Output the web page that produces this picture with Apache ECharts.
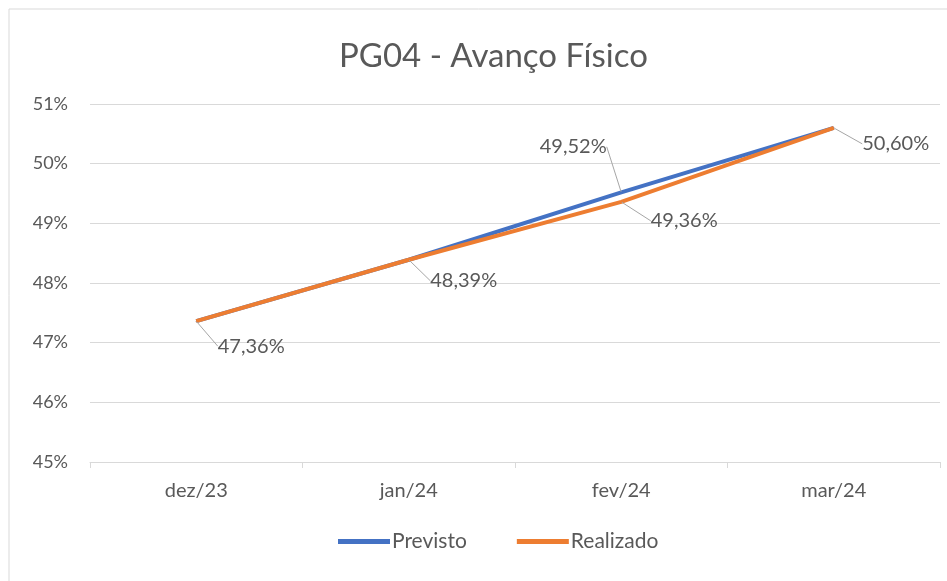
<!DOCTYPE html>
<html>
<head>
<meta charset="utf-8">
<script src="https://cdn.jsdelivr.net/npm/echarts@6/dist/echarts.min.js"></script>
<style>
  html, body { margin: 0; padding: 0; background: #fff; }
  #chart { width: 947px; height: 581px; }
</style>
</head>
<body>
<div id="chart"></div>
<script>
// dados do gráfico
var categorias = ['dez/23', 'jan/24', 'fev/24', 'mar/24']
var previsto = [47.36, 48.39, 49.52, 50.60]
var realizado = [47.36, 48.39, 49.36, 50.60]

// deslocamento dos rótulos (por índice)
var offsetRealizado = [[17, 25], [17, 21], [25, 19], [24, 16]]

function fmt(v) {
    return v.toFixed(2).replace('.', ',') + '%'
}

var fonte = 'Lato, "Open Sans", sans-serif'
var cinza = '#595959'

var dom = document.getElementById('chart')
var myChart = echarts.init(dom)

// só o ponto de fev/24 do previsto tem rótulo
var dadosPrevisto = previsto.map(function (v, i) {
    return { value: v, label: { show: i == 2 }, labelLine: { show: i == 2 } }
})

var option = {
    backgroundColor: '#fff',
    animation: false,
    title: {
        text: 'PG04 - Avanço Físico',
        left: 334,
        top: 35,
        textStyle: { fontFamily: fonte, fontSize: 33, fontWeight: 'normal', color: cinza }
    },
    graphic: [{
        type: 'rect',
        shape: { x: 9, y: 9, width: 960, height: 600 },
        style: { fill: null, stroke: '#d9d9d9', lineWidth: 1 }
    }],
    legend: {
        bottom: 24,
        left: 333,
        itemWidth: 52,
        itemHeight: 5,
        itemGap: 50,
        icon: 'rect',
        textStyle: { fontFamily: fonte, fontSize: 21, color: cinza, padding: [0, 0, 0, -3] },
        data: ['Previsto', 'Realizado']
    },
    grid: { left: 90, right: 7, top: 104, bottom: 119 },
    xAxis: {
        type: 'category',
        data: categorias,
        boundaryGap: true,
        axisLine: { lineStyle: { color: '#d9d9d9', width: 1 } },
        axisTick: { show: true, length: 6, lineStyle: { color: '#d9d9d9' } },
        axisLabel: { fontFamily: fonte, fontSize: 20, color: cinza, margin: 19 }
    },
    yAxis: {
        type: 'value',
        min: 45,
        max: 51,
        interval: 1,
        axisLine: { show: false },
        axisTick: { show: false },
        splitLine: { lineStyle: { color: '#d9d9d9', width: 1 } },
        axisLabel: {
            fontFamily: fonte, fontSize: 18, color: cinza, margin: 22,
            formatter: function (v) { return v + '%' }
        }
    },
    series: [
        {
            name: 'Previsto',
            type: 'line',
            data: dadosPrevisto,
            symbol: 'circle',
            symbolSize: 1,
            color: '#4472C4',
            itemStyle: { color: '#4472C4' },
            lineStyle: { width: 4, color: '#4472C4' },
            label: {
                position: 'top',
                fontFamily: fonte, fontSize: 20, color: cinza,
                formatter: function (p) { return fmt(p.value) }
            },
            labelLine: { lineStyle: { color: '#a6a6a6', width: 1 } },
            labelLayout: function (p) {
                if (p.dataIndex == 2) return { dx: -48, dy: -30 }
                return {}
            },
            z: 2
        },
        {
            name: 'Realizado',
            type: 'line',
            data: realizado,
            symbol: 'circle',
            symbolSize: 1,
            color: '#ED7D31',
            itemStyle: { color: '#ED7D31' },
            lineStyle: { width: 4, color: '#ED7D31' },
            label: {
                show: true,
                position: 'right',
                distance: 4,
                fontFamily: fonte, fontSize: 20, color: cinza,
                formatter: function (p) { return fmt(p.value) }
            },
            labelLine: { show: true, lineStyle: { color: '#a6a6a6', width: 1 } },
            labelLayout: function (p) {
                var o = offsetRealizado[p.dataIndex]
                return { dx: o[0], dy: o[1] }
            },
            z: 3
        }
    ]
}
myChart.setOption(option)
</script>
</body>
</html>
